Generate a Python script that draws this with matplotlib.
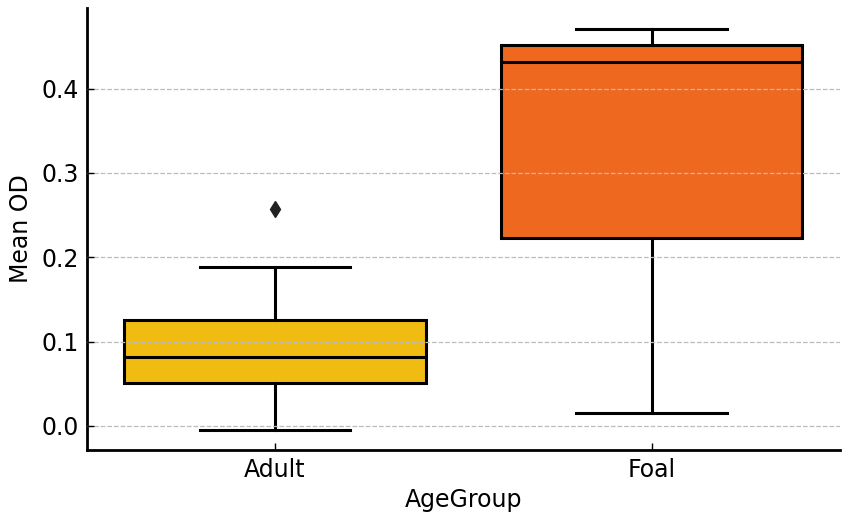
import numpy as np
import matplotlib
matplotlib.use('Agg')
import matplotlib.pyplot as plt

# === Data ===
groups = ['Adult', 'Foal']
q1 = [0.051, 0.223]
med = [0.082, 0.432]
q3 = [0.126, 0.452]
whislo = [-0.005, 0.015]
whishi = [0.188, 0.471]
fliers = [[0.257], []]
colors = ['#F0BC12', '#EE6820']

stats = [dict(label=g, q1=a, med=m, q3=b, whislo=lo, whishi=hi, fliers=f)
         for g, a, m, b, lo, hi, f in zip(groups, q1, med, q3, whislo, whishi, fliers)]

fig = plt.figure(figsize=(8.51, 5.23), dpi=100)
ax = fig.add_axes([0.102, 0.140, 0.885, 0.845])

lw = 2.2
bp = ax.bxp(stats, positions=range(len(groups)), widths=0.8, patch_artist=True,
            boxprops=dict(linewidth=lw, edgecolor='black'),
            medianprops=dict(color='black', linewidth=lw),
            whiskerprops=dict(color='black', linewidth=lw),
            capprops=dict(color='black', linewidth=lw),
            flierprops=dict(marker='d', markerfacecolor='#222222', markeredgecolor='#222222',
                            markersize=8))
for patch, c in zip(bp['boxes'], colors):
    patch.set_facecolor(c)

ax.set_xlim(-0.5, 1.5)
ax.set_ylim(-0.0285, 0.496)
ax.set_yticks([0.0, 0.1, 0.2, 0.3, 0.4])
ax.set_yticklabels(['0.0', '0.1', '0.2', '0.3', '0.4'])
ax.set_xticks(range(len(groups)))
ax.set_xticklabels(groups)
ax.tick_params(axis='both', direction='in', labelsize=17, width=1.0, length=5, pad=6)

# grid drawn over the boxes, as in the reference
ax.yaxis.grid(True, linestyle='--', color='#BBBBBB', linewidth=0.9, zorder=5)
ax.set_axisbelow(False)

for s in ['top', 'right']:
    ax.spines[s].set_visible(False)
for s in ['left', 'bottom']:
    ax.spines[s].set_linewidth(2)

ax.set_xlabel('AgeGroup', fontsize=17, labelpad=4)
ax.set_ylabel('Mean OD', fontsize=17, labelpad=6)

plt.savefig('out.png', dpi=100)
plt.close()
